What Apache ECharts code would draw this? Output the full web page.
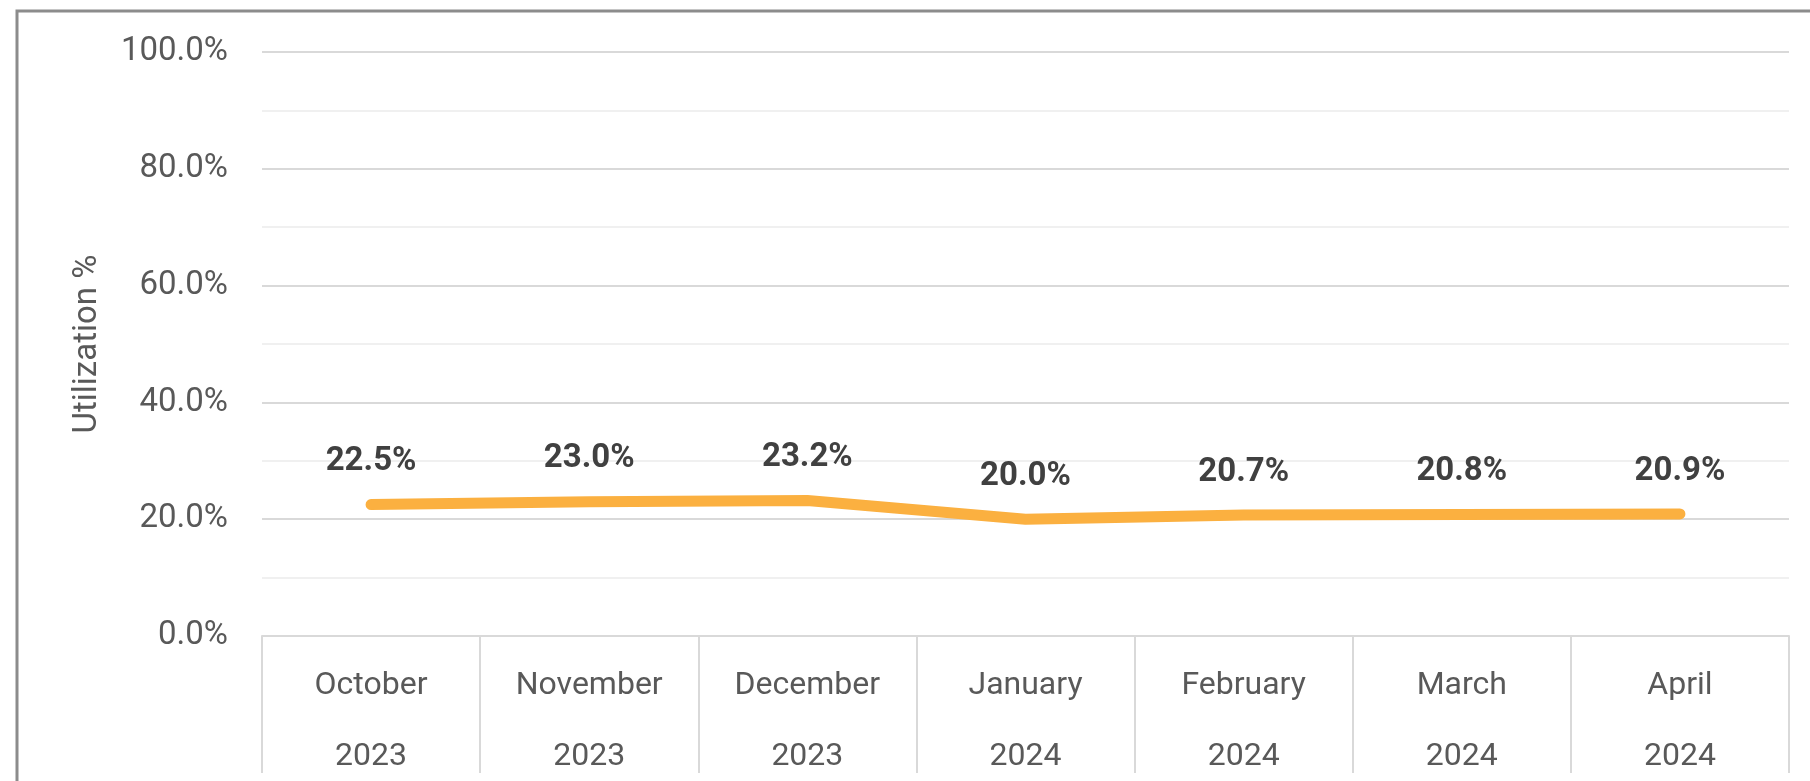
<!DOCTYPE html>
<html>
<head>
<meta charset="utf-8">
<script src="https://cdn.jsdelivr.net/npm/echarts@6/dist/echarts.min.js"></script>
<style>
html,body{margin:0;padding:0;background:#fff;}
#main{width:1810px;height:781px;}
</style>
</head>
<body>
<div id="main"></div>
<script>
var months=['October','November','December','January','February','March','April'];
var years=['2023','2023','2023','2024','2024','2024','2024'];
var utilization=[22.5,23.0,23.2,20.0,20.7,20.8,20.9];
var yTicks=[0,20,40,60,80,100];

var categories=[];
for(let i=0;i<months.length;i++){
    categories.push(months[i]+'\n'+years[i]);
}

var chart=echarts.init(document.getElementById('main'));
var option={
    animation:false,
    textStyle:{fontFamily:'Roboto'},
    graphic:[{
        type:'rect',
        shape:{x:17,y:11,width:1900,height:900},
        style:{fill:'none',stroke:'#8c8c8c',lineWidth:3},
        silent:true
    }],
    grid:{left:262,right:21,top:52,bottom:145,containLabel:false,outerBoundsMode:'none'},
    xAxis:{
        type:'category',
        data:categories,
        boundaryGap:true,
        axisLine:{show:true,lineStyle:{color:'#d9d9d9',width:2}},
        axisTick:{show:true,length:137,lineStyle:{color:'#d9d9d9',width:2}},
        axisLabel:{
            color:'#595959',
            fontSize:32,
            lineHeight:71,
            margin:14,
            interval:0
        }
    },
    yAxis:{
        type:'value',
        min:yTicks[0],
        max:yTicks[yTicks.length-1],
        interval:20,
        name:'Utilization %',
        nameLocation:'middle',
        nameGap:158,
        nameTextStyle:{color:'#595959',fontSize:33},
        axisLine:{show:false},
        axisTick:{show:false},
        axisLabel:{
            color:'#595959',
            fontSize:33,
            margin:34,
            formatter:function(v){return v.toFixed(1)+'%';}
        },
        splitLine:{lineStyle:{color:'#d9d9d9',width:2}},
        minorTick:{show:false,splitNumber:2},
        minorSplitLine:{show:true,lineStyle:{color:'#f0f0f0',width:2}}
    },
    series:[{
        type:'line',
        data:utilization,
        symbol:'circle',
        symbolSize:0,
        showSymbol:true,
        lineStyle:{color:'#fbb040',width:11,cap:'round',join:'round'},
        itemStyle:{color:'#fbb040'},
        label:{
            show:true,
            position:'top',
            distance:26,
            color:'#404040',
            fontSize:33,
            fontWeight:'bold',
            formatter:function(p){return p.value.toFixed(1)+'%';}
        },
        emphasis:{disabled:true}
    }]
};
chart.setOption(option);
</script>
</body>
</html>
